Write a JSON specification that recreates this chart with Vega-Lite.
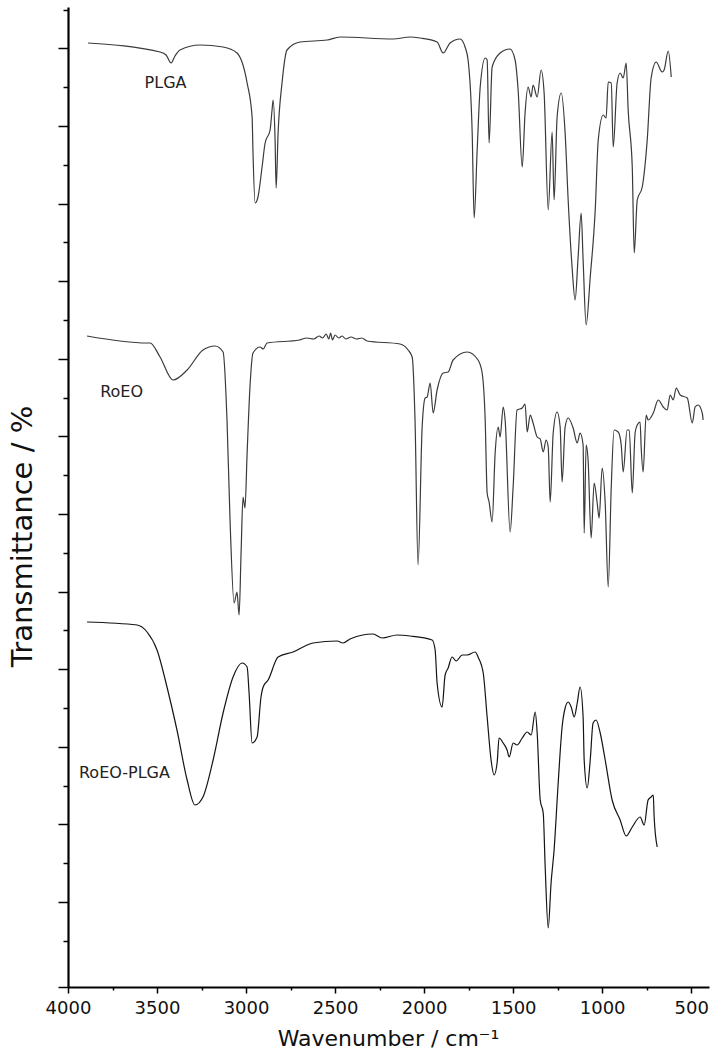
{
  "$schema": "https://vega.github.io/schema/vega-lite/v6.json",
  "width": 641,
  "height": 980,
  "autosize": {"type": "none"},
  "padding": {"left": 68, "top": 7, "right": 9, "bottom": 66},
  "background": "white",
  "config": {"view": {"stroke": null}, "font": "DejaVu Sans"},
  "datasets": {
    "spectra": [
      {"s": "PLGA", "wn": 3888, "t": 944}, {"s": "PLGA", "wn": 3483, "t": 935}, {"s": "PLGA", "wn": 3449, "t": 932}, {"s": "PLGA", "wn": 3421, "t": 924}, {"s": "PLGA", "wn": 3399, "t": 931}, {"s": "PLGA", "wn": 3371, "t": 937}, {"s": "PLGA", "wn": 3258, "t": 942}, {"s": "PLGA", "wn": 3129, "t": 940}, {"s": "PLGA", "wn": 3051, "t": 934}, {"s": "PLGA", "wn": 2994, "t": 904}, {"s": "PLGA", "wn": 2966, "t": 870}, {"s": "PLGA", "wn": 2961, "t": 834}, {"s": "PLGA", "wn": 2949, "t": 784}, {"s": "PLGA", "wn": 2933, "t": 790}, {"s": "PLGA", "wn": 2910, "t": 820}, {"s": "PLGA", "wn": 2893, "t": 844}, {"s": "PLGA", "wn": 2865, "t": 857}, {"s": "PLGA", "wn": 2854, "t": 877}, {"s": "PLGA", "wn": 2848, "t": 887}, {"s": "PLGA", "wn": 2837, "t": 847}, {"s": "PLGA", "wn": 2831, "t": 799}, {"s": "PLGA", "wn": 2820, "t": 854}, {"s": "PLGA", "wn": 2798, "t": 904}, {"s": "PLGA", "wn": 2770, "t": 937}, {"s": "PLGA", "wn": 2697, "t": 945}, {"s": "PLGA", "wn": 2545, "t": 947}, {"s": "PLGA", "wn": 2472, "t": 950}, {"s": "PLGA", "wn": 2174, "t": 948}, {"s": "PLGA", "wn": 2079, "t": 950}, {"s": "PLGA", "wn": 2022, "t": 949}, {"s": "PLGA", "wn": 1927, "t": 945}, {"s": "PLGA", "wn": 1893, "t": 934}, {"s": "PLGA", "wn": 1854, "t": 944}, {"s": "PLGA", "wn": 1798, "t": 948}, {"s": "PLGA", "wn": 1770, "t": 940}, {"s": "PLGA", "wn": 1753, "t": 927}, {"s": "PLGA", "wn": 1730, "t": 854}, {"s": "PLGA", "wn": 1719, "t": 769}, {"s": "PLGA", "wn": 1702, "t": 837}, {"s": "PLGA", "wn": 1685, "t": 900}, {"s": "PLGA", "wn": 1657, "t": 929}, {"s": "PLGA", "wn": 1646, "t": 927}, {"s": "PLGA", "wn": 1635, "t": 844}, {"s": "PLGA", "wn": 1618, "t": 920}, {"s": "PLGA", "wn": 1573, "t": 934}, {"s": "PLGA", "wn": 1517, "t": 938}, {"s": "PLGA", "wn": 1489, "t": 927}, {"s": "PLGA", "wn": 1472, "t": 897}, {"s": "PLGA", "wn": 1449, "t": 820}, {"s": "PLGA", "wn": 1433, "t": 874}, {"s": "PLGA", "wn": 1416, "t": 900}, {"s": "PLGA", "wn": 1399, "t": 890}, {"s": "PLGA", "wn": 1388, "t": 902}, {"s": "PLGA", "wn": 1365, "t": 890}, {"s": "PLGA", "wn": 1343, "t": 917}, {"s": "PLGA", "wn": 1326, "t": 894}, {"s": "PLGA", "wn": 1303, "t": 777}, {"s": "PLGA", "wn": 1281, "t": 855}, {"s": "PLGA", "wn": 1270, "t": 787}, {"s": "PLGA", "wn": 1253, "t": 870}, {"s": "PLGA", "wn": 1230, "t": 894}, {"s": "PLGA", "wn": 1208, "t": 854}, {"s": "PLGA", "wn": 1191, "t": 787}, {"s": "PLGA", "wn": 1169, "t": 720}, {"s": "PLGA", "wn": 1152, "t": 687}, {"s": "PLGA", "wn": 1135, "t": 730}, {"s": "PLGA", "wn": 1118, "t": 774}, {"s": "PLGA", "wn": 1107, "t": 727}, {"s": "PLGA", "wn": 1090, "t": 662}, {"s": "PLGA", "wn": 1067, "t": 710}, {"s": "PLGA", "wn": 1039, "t": 777}, {"s": "PLGA", "wn": 1022, "t": 847}, {"s": "PLGA", "wn": 994, "t": 872}, {"s": "PLGA", "wn": 978, "t": 869}, {"s": "PLGA", "wn": 966, "t": 905}, {"s": "PLGA", "wn": 949, "t": 904}, {"s": "PLGA", "wn": 938, "t": 840}, {"s": "PLGA", "wn": 916, "t": 904}, {"s": "PLGA", "wn": 899, "t": 914}, {"s": "PLGA", "wn": 882, "t": 909}, {"s": "PLGA", "wn": 865, "t": 924}, {"s": "PLGA", "wn": 854, "t": 877}, {"s": "PLGA", "wn": 831, "t": 820}, {"s": "PLGA", "wn": 820, "t": 734}, {"s": "PLGA", "wn": 803, "t": 787}, {"s": "PLGA", "wn": 775, "t": 800}, {"s": "PLGA", "wn": 747, "t": 847}, {"s": "PLGA", "wn": 725, "t": 909}, {"s": "PLGA", "wn": 697, "t": 925}, {"s": "PLGA", "wn": 663, "t": 915}, {"s": "PLGA", "wn": 652, "t": 917}, {"s": "PLGA", "wn": 629, "t": 936}, {"s": "PLGA", "wn": 612, "t": 910},

      {"s": "RoEO", "wn": 3893, "t": 651}, {"s": "RoEO", "wn": 3556, "t": 644}, {"s": "RoEO", "wn": 3539, "t": 644}, {"s": "RoEO", "wn": 3483, "t": 630}, {"s": "RoEO", "wn": 3410, "t": 607}, {"s": "RoEO", "wn": 3331, "t": 617}, {"s": "RoEO", "wn": 3242, "t": 637}, {"s": "RoEO", "wn": 3174, "t": 641}, {"s": "RoEO", "wn": 3129, "t": 635}, {"s": "RoEO", "wn": 3107, "t": 567}, {"s": "RoEO", "wn": 3090, "t": 467}, {"s": "RoEO", "wn": 3067, "t": 384}, {"s": "RoEO", "wn": 3051, "t": 395}, {"s": "RoEO", "wn": 3039, "t": 372}, {"s": "RoEO", "wn": 3028, "t": 434}, {"s": "RoEO", "wn": 3017, "t": 490}, {"s": "RoEO", "wn": 3006, "t": 479}, {"s": "RoEO", "wn": 2994, "t": 534}, {"s": "RoEO", "wn": 2978, "t": 600}, {"s": "RoEO", "wn": 2961, "t": 634}, {"s": "RoEO", "wn": 2921, "t": 640}, {"s": "RoEO", "wn": 2904, "t": 638}, {"s": "RoEO", "wn": 2882, "t": 644}, {"s": "RoEO", "wn": 2700, "t": 647}, {"s": "RoEO", "wn": 2660, "t": 649}, {"s": "RoEO", "wn": 2620, "t": 648}, {"s": "RoEO", "wn": 2590, "t": 651}, {"s": "RoEO", "wn": 2570, "t": 649}, {"s": "RoEO", "wn": 2550, "t": 653}, {"s": "RoEO", "wn": 2535, "t": 648}, {"s": "RoEO", "wn": 2525, "t": 654}, {"s": "RoEO", "wn": 2515, "t": 647}, {"s": "RoEO", "wn": 2500, "t": 652}, {"s": "RoEO", "wn": 2480, "t": 649}, {"s": "RoEO", "wn": 2460, "t": 651}, {"s": "RoEO", "wn": 2440, "t": 648}, {"s": "RoEO", "wn": 2410, "t": 650}, {"s": "RoEO", "wn": 2380, "t": 648}, {"s": "RoEO", "wn": 2350, "t": 649}, {"s": "RoEO", "wn": 2320, "t": 646}, {"s": "RoEO", "wn": 2135, "t": 643}, {"s": "RoEO", "wn": 2090, "t": 637}, {"s": "RoEO", "wn": 2067, "t": 630}, {"s": "RoEO", "wn": 2051, "t": 567}, {"s": "RoEO", "wn": 2034, "t": 422}, {"s": "RoEO", "wn": 2011, "t": 560}, {"s": "RoEO", "wn": 1994, "t": 589}, {"s": "RoEO", "wn": 1983, "t": 590}, {"s": "RoEO", "wn": 1966, "t": 604}, {"s": "RoEO", "wn": 1949, "t": 574}, {"s": "RoEO", "wn": 1927, "t": 597}, {"s": "RoEO", "wn": 1893, "t": 614}, {"s": "RoEO", "wn": 1865, "t": 615}, {"s": "RoEO", "wn": 1837, "t": 627}, {"s": "RoEO", "wn": 1758, "t": 635}, {"s": "RoEO", "wn": 1697, "t": 627}, {"s": "RoEO", "wn": 1674, "t": 614}, {"s": "RoEO", "wn": 1657, "t": 567}, {"s": "RoEO", "wn": 1646, "t": 494}, {"s": "RoEO", "wn": 1635, "t": 485}, {"s": "RoEO", "wn": 1618, "t": 465}, {"s": "RoEO", "wn": 1601, "t": 534}, {"s": "RoEO", "wn": 1584, "t": 560}, {"s": "RoEO", "wn": 1573, "t": 550}, {"s": "RoEO", "wn": 1556, "t": 580}, {"s": "RoEO", "wn": 1545, "t": 567}, {"s": "RoEO", "wn": 1517, "t": 455}, {"s": "RoEO", "wn": 1500, "t": 500}, {"s": "RoEO", "wn": 1478, "t": 577}, {"s": "RoEO", "wn": 1449, "t": 579}, {"s": "RoEO", "wn": 1433, "t": 583}, {"s": "RoEO", "wn": 1421, "t": 555}, {"s": "RoEO", "wn": 1404, "t": 572}, {"s": "RoEO", "wn": 1388, "t": 564}, {"s": "RoEO", "wn": 1365, "t": 550}, {"s": "RoEO", "wn": 1348, "t": 548}, {"s": "RoEO", "wn": 1331, "t": 535}, {"s": "RoEO", "wn": 1315, "t": 547}, {"s": "RoEO", "wn": 1303, "t": 540}, {"s": "RoEO", "wn": 1292, "t": 485}, {"s": "RoEO", "wn": 1275, "t": 554}, {"s": "RoEO", "wn": 1253, "t": 575}, {"s": "RoEO", "wn": 1236, "t": 560}, {"s": "RoEO", "wn": 1225, "t": 505}, {"s": "RoEO", "wn": 1208, "t": 560}, {"s": "RoEO", "wn": 1191, "t": 569}, {"s": "RoEO", "wn": 1163, "t": 559}, {"s": "RoEO", "wn": 1140, "t": 544}, {"s": "RoEO", "wn": 1124, "t": 554}, {"s": "RoEO", "wn": 1107, "t": 542}, {"s": "RoEO", "wn": 1101, "t": 454}, {"s": "RoEO", "wn": 1090, "t": 542}, {"s": "RoEO", "wn": 1079, "t": 527}, {"s": "RoEO", "wn": 1062, "t": 449}, {"s": "RoEO", "wn": 1045, "t": 504}, {"s": "RoEO", "wn": 1028, "t": 484}, {"s": "RoEO", "wn": 1017, "t": 469}, {"s": "RoEO", "wn": 1000, "t": 519}, {"s": "RoEO", "wn": 983, "t": 484}, {"s": "RoEO", "wn": 966, "t": 400}, {"s": "RoEO", "wn": 949, "t": 500}, {"s": "RoEO", "wn": 933, "t": 557}, {"s": "RoEO", "wn": 910, "t": 555}, {"s": "RoEO", "wn": 893, "t": 542}, {"s": "RoEO", "wn": 882, "t": 515}, {"s": "RoEO", "wn": 860, "t": 557}, {"s": "RoEO", "wn": 848, "t": 557}, {"s": "RoEO", "wn": 831, "t": 494}, {"s": "RoEO", "wn": 815, "t": 554}, {"s": "RoEO", "wn": 803, "t": 562}, {"s": "RoEO", "wn": 787, "t": 565}, {"s": "RoEO", "wn": 781, "t": 540}, {"s": "RoEO", "wn": 770, "t": 515}, {"s": "RoEO", "wn": 753, "t": 572}, {"s": "RoEO", "wn": 742, "t": 567}, {"s": "RoEO", "wn": 713, "t": 574}, {"s": "RoEO", "wn": 685, "t": 587}, {"s": "RoEO", "wn": 657, "t": 580}, {"s": "RoEO", "wn": 635, "t": 577}, {"s": "RoEO", "wn": 618, "t": 592}, {"s": "RoEO", "wn": 601, "t": 587}, {"s": "RoEO", "wn": 584, "t": 599}, {"s": "RoEO", "wn": 562, "t": 592}, {"s": "RoEO", "wn": 522, "t": 589}, {"s": "RoEO", "wn": 494, "t": 564}, {"s": "RoEO", "wn": 478, "t": 580}, {"s": "RoEO", "wn": 461, "t": 582}, {"s": "RoEO", "wn": 438, "t": 574}, {"s": "RoEO", "wn": 433, "t": 567},

      {"s": "RoEO-PLGA", "wn": 3893, "t": 365}, {"s": "RoEO-PLGA", "wn": 3612, "t": 362}, {"s": "RoEO-PLGA", "wn": 3556, "t": 355}, {"s": "RoEO-PLGA", "wn": 3500, "t": 337}, {"s": "RoEO-PLGA", "wn": 3444, "t": 300}, {"s": "RoEO-PLGA", "wn": 3388, "t": 257}, {"s": "RoEO-PLGA", "wn": 3331, "t": 207}, {"s": "RoEO-PLGA", "wn": 3287, "t": 182}, {"s": "RoEO-PLGA", "wn": 3242, "t": 190}, {"s": "RoEO-PLGA", "wn": 3185, "t": 227}, {"s": "RoEO-PLGA", "wn": 3129, "t": 274}, {"s": "RoEO-PLGA", "wn": 3073, "t": 310}, {"s": "RoEO-PLGA", "wn": 3022, "t": 324}, {"s": "RoEO-PLGA", "wn": 2994, "t": 320}, {"s": "RoEO-PLGA", "wn": 2983, "t": 294}, {"s": "RoEO-PLGA", "wn": 2966, "t": 244}, {"s": "RoEO-PLGA", "wn": 2938, "t": 250}, {"s": "RoEO-PLGA", "wn": 2916, "t": 290}, {"s": "RoEO-PLGA", "wn": 2904, "t": 300}, {"s": "RoEO-PLGA", "wn": 2876, "t": 307}, {"s": "RoEO-PLGA", "wn": 2820, "t": 330}, {"s": "RoEO-PLGA", "wn": 2736, "t": 335}, {"s": "RoEO-PLGA", "wn": 2657, "t": 342}, {"s": "RoEO-PLGA", "wn": 2624, "t": 344}, {"s": "RoEO-PLGA", "wn": 2489, "t": 346}, {"s": "RoEO-PLGA", "wn": 2455, "t": 344}, {"s": "RoEO-PLGA", "wn": 2416, "t": 348}, {"s": "RoEO-PLGA", "wn": 2287, "t": 353}, {"s": "RoEO-PLGA", "wn": 2236, "t": 349}, {"s": "RoEO-PLGA", "wn": 2152, "t": 352}, {"s": "RoEO-PLGA", "wn": 2079, "t": 351}, {"s": "RoEO-PLGA", "wn": 1955, "t": 347}, {"s": "RoEO-PLGA", "wn": 1938, "t": 337}, {"s": "RoEO-PLGA", "wn": 1927, "t": 304}, {"s": "RoEO-PLGA", "wn": 1899, "t": 280}, {"s": "RoEO-PLGA", "wn": 1882, "t": 312}, {"s": "RoEO-PLGA", "wn": 1865, "t": 319}, {"s": "RoEO-PLGA", "wn": 1843, "t": 330}, {"s": "RoEO-PLGA", "wn": 1820, "t": 326}, {"s": "RoEO-PLGA", "wn": 1786, "t": 332}, {"s": "RoEO-PLGA", "wn": 1758, "t": 332}, {"s": "RoEO-PLGA", "wn": 1713, "t": 335}, {"s": "RoEO-PLGA", "wn": 1697, "t": 330}, {"s": "RoEO-PLGA", "wn": 1668, "t": 314}, {"s": "RoEO-PLGA", "wn": 1646, "t": 270}, {"s": "RoEO-PLGA", "wn": 1624, "t": 227}, {"s": "RoEO-PLGA", "wn": 1607, "t": 212}, {"s": "RoEO-PLGA", "wn": 1590, "t": 224}, {"s": "RoEO-PLGA", "wn": 1579, "t": 249}, {"s": "RoEO-PLGA", "wn": 1556, "t": 244}, {"s": "RoEO-PLGA", "wn": 1534, "t": 237}, {"s": "RoEO-PLGA", "wn": 1522, "t": 230}, {"s": "RoEO-PLGA", "wn": 1500, "t": 244}, {"s": "RoEO-PLGA", "wn": 1478, "t": 242}, {"s": "RoEO-PLGA", "wn": 1449, "t": 249}, {"s": "RoEO-PLGA", "wn": 1421, "t": 255}, {"s": "RoEO-PLGA", "wn": 1399, "t": 252}, {"s": "RoEO-PLGA", "wn": 1376, "t": 275}, {"s": "RoEO-PLGA", "wn": 1365, "t": 254}, {"s": "RoEO-PLGA", "wn": 1348, "t": 187}, {"s": "RoEO-PLGA", "wn": 1331, "t": 174}, {"s": "RoEO-PLGA", "wn": 1320, "t": 120}, {"s": "RoEO-PLGA", "wn": 1303, "t": 59}, {"s": "RoEO-PLGA", "wn": 1287, "t": 104}, {"s": "RoEO-PLGA", "wn": 1270, "t": 137}, {"s": "RoEO-PLGA", "wn": 1247, "t": 204}, {"s": "RoEO-PLGA", "wn": 1225, "t": 260}, {"s": "RoEO-PLGA", "wn": 1208, "t": 279}, {"s": "RoEO-PLGA", "wn": 1191, "t": 285}, {"s": "RoEO-PLGA", "wn": 1174, "t": 280}, {"s": "RoEO-PLGA", "wn": 1157, "t": 270}, {"s": "RoEO-PLGA", "wn": 1140, "t": 284}, {"s": "RoEO-PLGA", "wn": 1124, "t": 300}, {"s": "RoEO-PLGA", "wn": 1107, "t": 270}, {"s": "RoEO-PLGA", "wn": 1101, "t": 227}, {"s": "RoEO-PLGA", "wn": 1084, "t": 199}, {"s": "RoEO-PLGA", "wn": 1067, "t": 227}, {"s": "RoEO-PLGA", "wn": 1051, "t": 264}, {"s": "RoEO-PLGA", "wn": 1034, "t": 267}, {"s": "RoEO-PLGA", "wn": 1011, "t": 254}, {"s": "RoEO-PLGA", "wn": 983, "t": 227}, {"s": "RoEO-PLGA", "wn": 944, "t": 187}, {"s": "RoEO-PLGA", "wn": 899, "t": 167}, {"s": "RoEO-PLGA", "wn": 865, "t": 151}, {"s": "RoEO-PLGA", "wn": 831, "t": 160}, {"s": "RoEO-PLGA", "wn": 787, "t": 170}, {"s": "RoEO-PLGA", "wn": 764, "t": 162}, {"s": "RoEO-PLGA", "wn": 742, "t": 187}, {"s": "RoEO-PLGA", "wn": 725, "t": 190}, {"s": "RoEO-PLGA", "wn": 713, "t": 192}, {"s": "RoEO-PLGA", "wn": 708, "t": 170}, {"s": "RoEO-PLGA", "wn": 691, "t": 140}
    ],
    "labels": [
      {"label": "PLGA", "wn": 3452, "t": 904},
      {"label": "RoEO", "wn": 3699, "t": 595},
      {"label": "RoEO-PLGA", "wn": 3683, "t": 214}
    ]
  },
  "layer": [
    {
      "data": {"name": "spectra"},
      "mark": {"type": "line", "interpolate": "monotone", "strokeJoin": "round"},
      "encoding": {
        "x": {
          "field": "wn", "type": "quantitative",
          "scale": {"domain": [400, 4000], "reverse": true, "nice": false, "zero": false},
          "axis": {
            "orient": "bottom",
            "values": [4000, 3500, 3000, 2500, 2000, 1500, 1000, 500],
            "format": "d",
            "grid": false,
            "domainColor": "#000", "domainWidth": 1.8,
            "tickColor": "#000", "tickSize": 6, "tickWidth": 1.5,
            "labelFont": "DejaVu Sans", "labelFontSize": 18, "labelColor": "#111", "labelPadding": 6, "labelFlush": false,
            "title": "Wavenumber / cm⁻¹",
            "titleFont": "DejaVu Sans", "titleFontSize": 22, "titleFontWeight": "normal", "titleColor": "#111",
            "titleX": 320, "titleY": 58, "titleBaseline": "alphabetic", "titleAlign": "center"
          }
        },
        "y": {
          "field": "t", "type": "quantitative",
          "scale": {"domain": [0, 980], "nice": false, "zero": false},
          "axis": {
            "orient": "left",
            "values": [0, 85, 163, 240, 318, 395, 473, 551, 628, 706, 783, 861, 939],
            "grid": false, "labels": false,
            "domainColor": "#000", "domainWidth": 2.2,
            "tickColor": "#000", "tickSize": 10, "tickWidth": 1.5,
            "title": "Transmittance / %",
            "titleFont": "DejaVu Sans", "titleFontSize": 29, "titleFontWeight": "normal", "titleColor": "#111",
            "titleAngle": -90, "titleX": -46, "titleY": 529, "titleAlign": "center", "titleBaseline": "middle"
          }
        },
        "color": {
          "field": "s", "type": "nominal",
          "scale": {"domain": ["PLGA", "RoEO", "RoEO-PLGA"], "range": ["#3a3a3a", "#3a3a3a", "#141414"]},
          "legend": null
        },
        "strokeWidth": {
          "field": "s", "type": "nominal",
          "scale": {"domain": ["PLGA", "RoEO", "RoEO-PLGA"], "range": [1.2, 1.2, 2]},
          "legend": null
        }
      }
    },
    {
      "data": {"name": "labels"},
      "mark": {"type": "text", "font": "DejaVu Sans", "fontSize": 16, "align": "center", "baseline": "middle", "color": "#222"},
      "encoding": {
        "x": {
          "field": "wn", "type": "quantitative",
          "axis": {
            "orient": "bottom",
            "values": [3750, 3250, 2750, 2250, 1750, 1250, 750],
            "grid": false, "labels": false, "domain": false, "title": null,
            "tickColor": "#000", "tickSize": 3, "tickWidth": 1.5
          }
        },
        "y": {
          "field": "t", "type": "quantitative",
          "axis": {
            "orient": "left",
            "values": [46, 124, 201, 279, 357, 434, 512, 589, 667, 745, 822, 900, 977],
            "grid": false, "labels": false, "domain": false, "title": null,
            "tickColor": "#000", "tickSize": 5, "tickWidth": 1.5
          }
        },
        "text": {"field": "label", "type": "nominal"}
      }
    }
  ],
  "resolve": {"axis": {"x": "independent", "y": "independent"}}
}
